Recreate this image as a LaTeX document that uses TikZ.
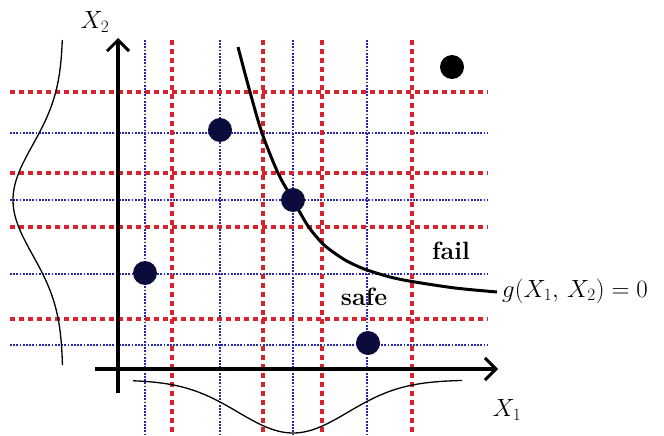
\documentclass[tikz,border=0pt]{standalone}
\usetikzlibrary{arrows.meta}
\definecolor{gridred}{RGB}{215,35,45}
\definecolor{gridblue}{RGB}{40,40,175}
\definecolor{dotblue}{RGB}{12,12,60}
\begin{document}
\begin{tikzpicture}[x=1pt, y=-1pt,
  redline/.style={draw=gridred, line width=4pt, dash pattern=on 5pt off 4pt},
  blueline/.style={draw=gridblue, line width=1.6pt, dash pattern=on 1.8pt off 1.4pt},
  axis/.style={line width=3.5pt, -{Straight Barb[length=11pt,width=22pt,line width=3pt]}},
  dot/.style={circle, fill=dotblue, inner sep=0pt, minimum size=24pt},
  lbl/.style={font=\fontsize{25}{30}\selectfont}]
  \useasboundingbox (0,0) rectangle (664,436);
  % grid
  \foreach \y in {133,200,274,345} \draw[blueline] (10,\y) -- (488,\y);
  \foreach \x in {145,220,293,367} \draw[blueline] (\x,40) -- (\x,436);
  \foreach \y in {92,173,227,319} \draw[redline] (10,\y) -- (488,\y);
  \foreach \x in {172,263,322,412} \draw[redline] (\x,40) -- (\x,436);
  % axes
  \coordinate (O2) at (118,393);
  \coordinate (T2) at (118,38);
  \coordinate (O1) at (95,369);
  \coordinate (T1) at (498,369);
  \draw[axis] (O2) -- (T2);
  \draw[axis] (O1) -- (T1);
  % densities
  \draw[line width=1.3pt] plot[domain=40:365, samples=80, variable=\t]
    ({63-50*exp(-0.5*((\t-200)/55)^2)}, \t);
  \draw[line width=1.3pt] plot[domain=133:462, samples=80, variable=\t]
    (\t, {380+53*exp(-0.5*((\t-293)/55)^2)});
  % limit state
  \draw[line width=3pt] plot[smooth, tension=0.5] coordinates {(238,47) (250,92)
    (262,133) (278,173) (293,200) (308,226) (322,243) (333,252) (345,260)
    (356,265.5) (367,270) (390,277) (412,281.5) (455,288) (497,292)};
  % samples
  \node[dot] (p1) at (220,130) {};
  \node[dot] (p2) at (145,273) {};
  \node[dot] (p3) at (293,200) {};
  \node[dot] (p4) at (368,343) {};
  \node[dot, fill=black] (p5) at (452,67) {};
  % labels
  \node[lbl] (x2) at (95,22) {$X_2$};
  \node[lbl] (x1) at (507,410) {$X_1$};
  \node[lbl] (fail) at (451,251) {\textbf{fail}};
  \node[lbl] (safe) at (364,297) {\textbf{safe}};
  \node[lbl, font=\fontsize{27}{32}\selectfont, anchor=west, inner sep=0pt] (g)
    at (502,291) {$g(X_1,\,X_2)=0$};
\end{tikzpicture}
\end{document}
